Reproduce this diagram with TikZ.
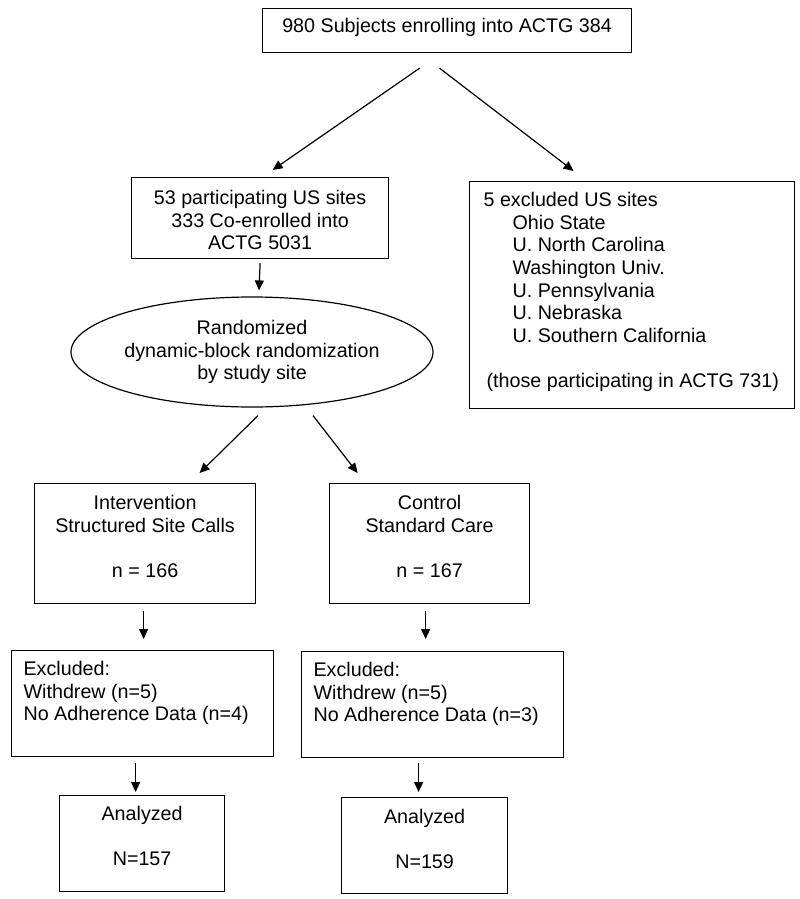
\documentclass[tikz,border=0pt]{standalone}
\usepackage{fontspec}
\setmainfont{Liberation Sans}
\usetikzlibrary{arrows.meta,shapes.geometric}
\newcommand{\cbx}[4]{\parbox[c][#2pt][t]{#1pt}{\centering\rule{0pt}{#3pt}#4}}
\newcommand{\lbx}[5]{\parbox[c][#2pt][t]{#1pt}{\raggedright\leftskip=#4pt\rule{0pt}{#3pt}#5}}
\tikzset{
  boxnode/.style={draw=black, line width=1.2pt, inner sep=0pt, anchor=north west,
    font=\fontsize{19.7}{22.6}\selectfont},
  ovalnode/.style={ellipse, draw=black, line width=1.2pt, inner sep=0pt, align=center,
    minimum width=362pt, minimum height=110pt, font=\fontsize{19.7}{22.6}\selectfont},
  arr/.style={line width=1.2pt, -{Triangle[length=10pt,width=9pt]}},
}
\begin{document}
\begin{tikzpicture}[x=1pt,y=-1pt]
\fill[white] (0,0) rectangle (800,899);
\useasboundingbox (0,0) rectangle (800,899);

\node[boxnode] (top) at (262,8) {\cbx{369}{44}{24.3}{980 Subjects enrolling into ACTG 384}};
\node[boxnode] (part) at (131,177) {\cbx{257}{81}{27}{53 participating US sites\\333 Co-enrolled into\\ACTG 5031}};
\node[boxnode] (excl) at (469,181) {\lbx{325}{227}{25}{14}{5 excluded US sites\\
  \hspace*{29pt}Ohio State\\
  \hspace*{29pt}U. North Carolina\\
  \hspace*{29pt}Washington Univ.\\
  \hspace*{29pt}U. Pennsylvania\\
  \hspace*{29pt}U. Nebraska\\
  \hspace*{29pt}U. Southern California\\[22.6pt]
  \hspace*{3pt}(those participating in ACTG 731)}};
\node[ovalnode] (rand) at (252,352) {Randomized\\dynamic-block randomization\\by study site};
\node[boxnode] (intv) at (34,483) {\cbx{221}{120}{26}{Intervention\\Structured Site Calls\\[22.6pt]n = 166}};
\node[boxnode] (ctrl) at (329,483) {\cbx{200}{120}{26}{Control\\Standard Care\\[22.6pt]n = 167}};
\node[boxnode] (exl) at (11,650) {\lbx{262}{106}{25}{12}{Excluded:\\Withdrew (n=5)\\No Adherence Data (n=4)}};
\node[boxnode] (exr) at (301,651) {\lbx{262}{106}{25}{12}{Excluded:\\Withdrew (n=5)\\No Adherence Data (n=3)}};
\node[boxnode] (anl) at (59,795) {\cbx{165}{96}{25}{Analyzed\\[22.6pt]N=157}};
\node[boxnode] (anr) at (341,797) {\cbx{166}{96}{26}{Analyzed\\[22.6pt]N=159}};

\draw[arr] ([shift={(-27.5,15)}]top.south) -- ([shift={(12.5,-7)}]part.north);
\draw[arr] ([shift={(-7.5,15)}]top.south) -- ([shift={(-58.5,-10)}]excl.north);
\draw[arr] ([shift={(0,4)}]part.south) -- ([shift={(7,-6)}]rand.north);
\draw[arr] ([shift={(6,8)}]rand.south) -- ([shift={(54.5,-10)}]intv.north);
\draw[arr] ([shift={(61,8)}]rand.south) -- ([shift={(-72,-10)}]ctrl.north);
\draw[arr] ([shift={(-1.5,7)}]intv.south) -- ([shift={(1,-11)}]exl.north);
\draw[arr] ([shift={(-4,7)}]ctrl.south) -- ([shift={(-7,-12)}]exr.north);
\draw[arr] ([shift={(-7,6)}]exl.south) -- ([shift={(-6.5,-3)}]anl.north);
\draw[arr] ([shift={(-14,5)}]exr.south) -- ([shift={(-6,-5)}]anr.north);
\end{tikzpicture}
\end{document}
